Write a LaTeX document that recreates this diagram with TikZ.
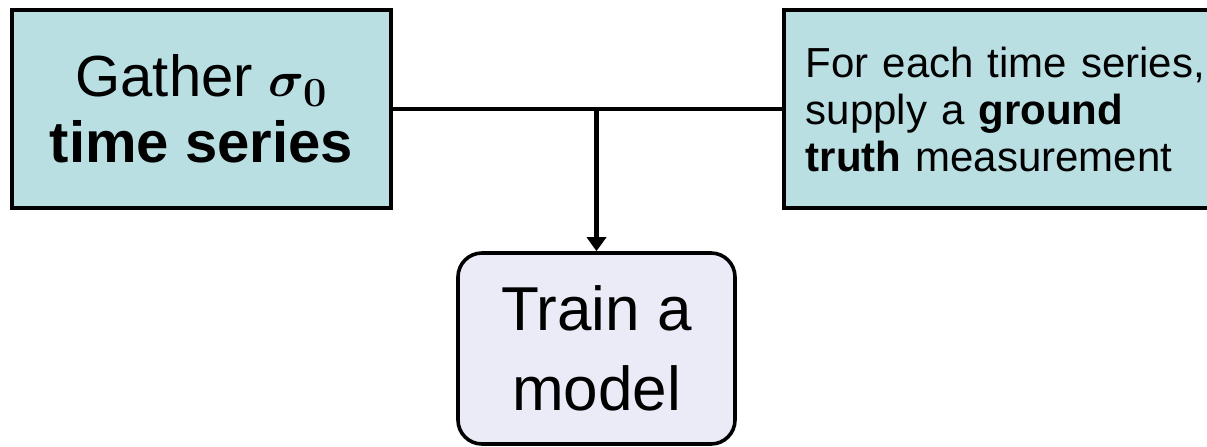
\documentclass[tikz,border=0pt]{standalone}
\usepackage{amsmath}
\usepackage{bm}
\usepackage[no-math]{fontspec}
\setmainfont{Liberation Sans}
\usetikzlibrary{arrows.meta,positioning}
\definecolor{BoxTeal}{HTML}{B9DFE3}
\definecolor{BoxLilac}{HTML}{EBEBF8}

\begin{document}
\begin{tikzpicture}[x=0.5pt,y=-0.5pt,
    stepbox/.style={draw=black,line width=1.8pt,fill=BoxTeal,minimum height=99pt},
    link/.style={line width=2.2pt}]
  \useasboundingbox (0,0) rectangle (1207,446);
  \clip (0,0) rectangle (1207,446);
  \node[stepbox,minimum width=189.5pt,align=center,
    font=\fontsize{29}{33}\selectfont] (gather) at (201.5,109)
    {Gather $\bm{\sigma}_{\mathbf{0}}$\\\textbf{time series}};
  \node[stepbox,anchor=west,text width=216pt,inner xsep=11pt,align=left,
    font=\fontsize{21}{23.5}\selectfont] (truth) at (782,109)
    {For each time series,\\supply a \textbf{ground}\\\textbf{truth} measurement};
  \node[draw,line width=1.8pt,rounded corners=12pt,fill=BoxLilac,
    minimum width=138.5pt,minimum height=95.5pt,align=center,
    font=\fontsize{31}{40}\selectfont] (train) at (596.5,348.5) {Train a\\model};
  \draw[link] (gather) -- (truth);
  \coordinate (split) at (gather.east -| train.north);
  \draw[link,-{Triangle[width=9.5pt,length=7pt]}] (split) -- (train.north);
\end{tikzpicture}
\end{document}
